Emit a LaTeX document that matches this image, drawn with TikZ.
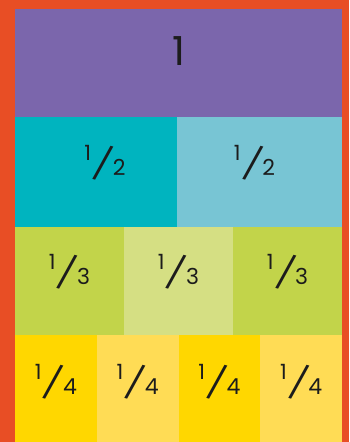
\documentclass[tikz,border=0pt]{standalone}
\usepackage{fontspec}
\setmainfont{Poppins}
\usetikzlibrary{positioning}
\definecolor{framec}{HTML}{E84E25}
\definecolor{wholec}{HTML}{7B66AC}
\definecolor{halfA}{HTML}{00B4BF}
\definecolor{halfB}{HTML}{78C5D4}
\definecolor{thirdA}{HTML}{C2D44A}
\definecolor{thirdB}{HTML}{D5DF83}
\definecolor{quarterA}{HTML}{FFD700}
\definecolor{quarterB}{HTML}{FFDC55}
\definecolor{ink}{HTML}{1C1C1C}
\newcommand{\unitfrac}[1]{\raisebox{11pt}{\fontsize{21}{21}\selectfont 1}\kern0pt\raisebox{-2pt}{\fontsize{33}{33}\selectfont\rotatebox{-15}{/}}\kern-3pt\raisebox{-4pt}{\fontsize{22}{22}\selectfont #1}}

\begin{document}
\begin{tikzpicture}[x=1pt,y=-1pt,
    cell/.style={rectangle, inner sep=0pt, outer sep=0pt, anchor=north west},
    num/.style={text=ink, inner sep=0pt}]
    % Frame
    \fill[framec] (0,0) rectangle (349,442);
    % Whole
    \node[cell, fill=wholec, minimum width=327pt, minimum height=108pt] (whole) at (15,9) {};
    \node[num, font=\fontsize{40}{40}\selectfont] (one) at ([yshift=12pt]whole.center) {1};
    % Halves
    \node[cell, fill=halfA, minimum width=162pt, minimum height=110pt] (half1) at (15,117) {};
    \node[cell, fill=halfB, minimum width=165pt, minimum height=110pt] (half2) at (177,117) {};
    \node[num] (lhalf1) at ([xshift=9pt,yshift=8.5pt]half1.center) {\unitfrac{2}};
    \node[num] (lhalf2) at ([xshift=-5pt,yshift=8.5pt]half2.center) {\unitfrac{2}};
    % Thirds
    \foreach \i/\c in {0/thirdA,1/thirdB,2/thirdA}{
      \node[cell, fill=\c, minimum width=109pt, minimum height=108pt] (third\i) at (15+109*\i,227) {};
      \node[num] (lthird\i) at ([yshift=9pt]third\i.center) {\unitfrac{3}};
    }
    % Quarters
    \foreach \i/\c in {0/quarterA,1/quarterB,2/quarterA,3/quarterB}{
      \node[cell, fill=\c, minimum width=81.75pt, minimum height=107pt] (quarter\i) at (15+81.75*\i,335) {};
      \node[num] (lquarter\i) at ([yshift=6.5pt]quarter\i.center) {\unitfrac{4}};
    }
\end{tikzpicture}
\end{document}
